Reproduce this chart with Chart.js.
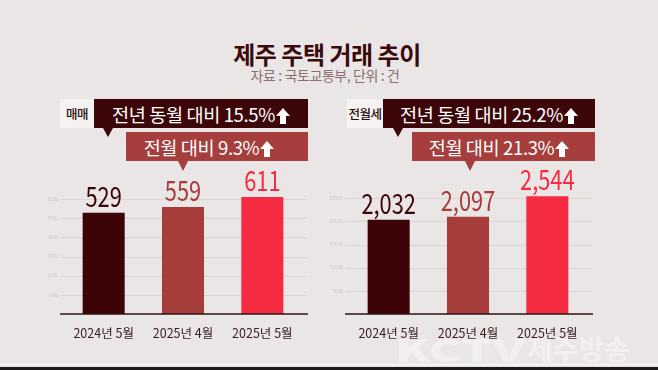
<!DOCTYPE html>
<html>
<head>
<meta charset="utf-8">
<script src="https://cdn.jsdelivr.net/npm/chart.js@4.4.1/dist/chart.umd.min.js"></script>
<style>
  body { margin:0; }
  #page { position:relative; width:658px; height:370px; background:#ebe6e6; overflow:hidden; font-family:'Noto Sans CJK KR','Noto Sans',sans-serif; }
  .abs { position:absolute; }
  #title { top:41px; left:-2px; width:658px; text-align:center; font-size:24px; line-height:26px; font-weight:700; color:#3a0a0c; letter-spacing:-0.5px; }
  #sub { top:67px; left:-4px; width:658px; text-align:center; font-size:14px; line-height:16px; color:#8c6f70; letter-spacing:-0.4px; }
  .tag { height:29px; line-height:29px; background:#f5f2f2; color:#2a0a0c; font-size:12.5px; font-weight:500; text-align:center; letter-spacing:-0.5px; }
  .box { height:29px; line-height:29px; color:#fff; font-size:18.6px; text-align:center; letter-spacing:-0.4px; white-space:nowrap; }
  .box svg { vertical-align:-2px; margin-left:1px; }
  .dark { background:#3d0609; }
  .red { background:#a53e3c; }
  .tail { width:0; height:0; border-left:5px solid transparent; border-right:5px solid transparent; }
  .chartbox { top:160px; width:290px; height:180px; }
  .wm { color:rgba(255,255,255,0.4); font-weight:900; white-space:nowrap; }
</style>
</head>
<body>
<div id="page">
  <div class="abs wm" style="left:395px;top:326px;font-size:31px;transform:scaleX(1.6);transform-origin:left;">KCTV</div>
  <div class="abs wm" style="left:527px;top:328px;font-size:28px;font-weight:700;">제주방송</div>

  <div id="title" class="abs">제주 주택 거래 추이</div>
  <div id="sub" class="abs">자료 : 국토교통부, 단위 : 건</div>

  <div class="abs tag" style="left:60px;top:99px;width:34px;">매매</div>
  <div id="s1" class="abs box dark" style="left:94px;top:99px;width:214px;"></div>
  <div class="abs tail" style="left:103px;top:128px;border-top:9px solid #3d0609;"></div>
  <div id="s2" class="abs box red" style="left:126px;top:132px;width:166px;padding-right:16px;"></div>
  <div class="abs tail" style="left:178px;top:161px;border-top:10px solid #a53e3c;"></div>

  <div class="abs tag" style="left:347px;top:99px;width:36px;">전월세</div>
  <div id="r1" class="abs box dark" style="left:383px;top:99px;width:212px;"></div>
  <div class="abs tail" style="left:393px;top:128px;border-top:9px solid #3d0609;"></div>
  <div id="r2" class="abs box red" style="left:412px;top:132px;width:174px;padding-right:9px;"></div>
  <div class="abs tail" style="left:465px;top:161px;border-top:10px solid #a53e3c;"></div>

  <div class="abs chartbox" style="left:30px;"><canvas id="salesChart"></canvas></div>
  <div class="abs chartbox" style="left:315px;"><canvas id="rentChart"></canvas></div>

  <div class="abs" style="left:0;top:364px;width:658px;height:1px;background:#fbfafa;"></div>
  <div class="abs" style="left:0;top:367px;width:658px;height:3px;background:#1e1a1a;"></div>
</div>

<script>
// data
const categories = ["2024년 5월", "2025년 4월", "2025년 5월"];
const salesValues = [529, 559, 611];   // 매매
const rentValues = [2032, 2097, 2544]; // 전월세
const salesChange = [15.5, 9.3];       // 전년 동월 대비, 전월 대비
const rentChange = [25.2, 21.3];
const barColors = ["#3c0407", "#a63d3b", "#f52b42"];

const arrow = '<svg width="14" height="16" viewBox="0 0 14 16"><polygon points="7,0 14,8 10,8 10,16 4,16 4,8 0,8" fill="#fff"/></svg>';

document.getElementById('s1').innerHTML = '전년 동월 대비 ' + salesChange[0] + '%' + arrow;
document.getElementById('s2').innerHTML = '전월 대비 ' + salesChange[1] + '%' + arrow;
document.getElementById('r1').innerHTML = '전년 동월 대비 ' + rentChange[0] + '%' + arrow;
document.getElementById('r2').innerHTML = '전월 대비 ' + rentChange[1] + '%' + arrow;

// grid lines + base line, a bit wider than the chart area
const gridPlugin = {
  id: 'gridPlugin',
  beforeDatasetsDraw(chart) {
    const ctx = chart.ctx, area = chart.chartArea, y = chart.scales.y;
    ctx.save();
    ctx.strokeStyle = '#dcd5d5';
    ctx.lineWidth = 1;
    y.ticks.forEach(t => {
      if (t.value <= 0 || t.value >= y.max) return;
      const py = Math.round(y.getPixelForValue(t.value)) + 0.5;
      ctx.beginPath();
      ctx.moveTo(area.left - 4, py);
      ctx.lineTo(area.right + 5, py);
      ctx.stroke();
    });
    ctx.restore();
  },
  afterDatasetsDraw(chart) {
    const ctx = chart.ctx, area = chart.chartArea, y = chart.scales.y;
    const py = y.getPixelForValue(0);
    ctx.save();
    ctx.strokeStyle = '#2b1315';
    ctx.lineWidth = 1.6;
    ctx.beginPath();
    ctx.moveTo(area.left - 4, py);
    ctx.lineTo(area.right + 6, py);
    ctx.stroke();
    ctx.restore();
  }
};

// numbers above bars (narrow font look)
const valuePlugin = {
  id: 'valuePlugin',
  afterDatasetsDraw(chart) {
    const ctx = chart.ctx;
    const meta = chart.getDatasetMeta(0);
    const vals = chart.data.datasets[0].data;
    ctx.save();
    ctx.font = '400 28px "Noto Sans CJK KR", "Noto Sans", sans-serif';
    ctx.textAlign = 'center';
    ctx.textBaseline = 'alphabetic';
    meta.data.forEach((bar, i) => {
      ctx.save();
      ctx.translate(bar.x, bar.y - 6);
      ctx.scale(0.78, 1);
      ctx.fillStyle = barColors[i];
      ctx.fillText(vals[i].toLocaleString('en-US'), 0, 0);
      ctx.restore();
    });
    ctx.restore();
  }
};

function makeChart(id, values, maxVal, step, topPad) {
  const ctx = document.getElementById(id);
  return new Chart(ctx, {
    type: 'bar',
    data: {
      labels: categories,
      datasets: [{
        data: values,
        backgroundColor: barColors,
        borderWidth: 0,
        categoryPercentage: 1,
        barPercentage: 0.53
      }]
    },
    options: {
      responsive: true,
      maintainAspectRatio: false,
      animation: false,
      layout: { padding: { top: topPad, right: 18, left: 0, bottom: 0 } },
      plugins: { legend: { display: false }, tooltip: { enabled: false } },
      scales: {
        x: {
          grid: { display: false },
          border: { display: false },
          ticks: { color: '#3b2022', padding: 4, font: { family: 'Noto Sans CJK KR', size: 12.5 } },
          afterFit(scale) { scale.height = 26; }
        },
        y: {
          min: 0,
          max: maxVal,
          grid: { display: false, drawTicks: false },
          border: { display: false },
          ticks: {
            stepSize: step,
            padding: 6,
            color: '#d0c7c7',
            font: { family: 'Noto Sans', size: 6 },
            callback: v => (v === 0 || v === maxVal) ? '' : v
          },
          afterFit(scale) { scale.width = 34; }
        }
      }
    },
    plugins: [gridPlugin, valuePlugin]
  });
}

makeChart('salesChart', salesValues, 700, 100, 20);
makeChart('rentChart', rentValues, 3000, 500, 15);
</script>
</body>
</html>
